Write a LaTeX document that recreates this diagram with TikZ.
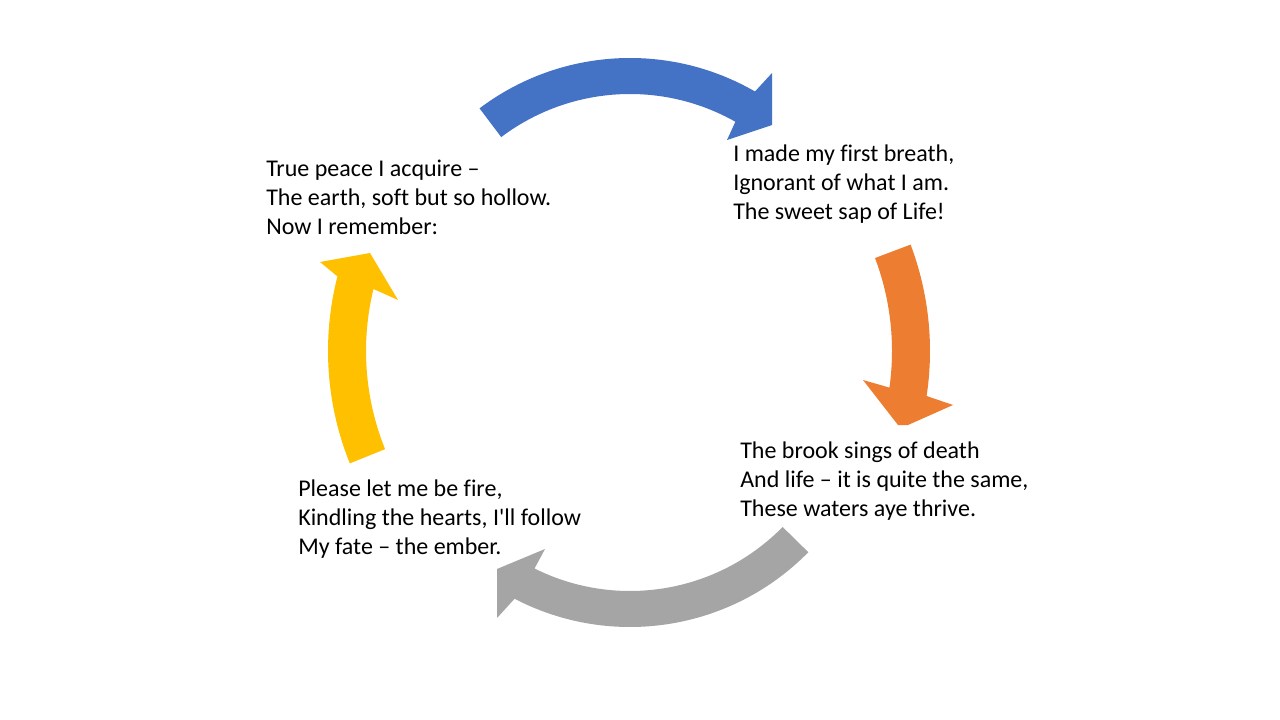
\documentclass[tikz,border=0pt]{standalone}
\usepackage{fontspec}
\setmainfont{Carlito}[Ligatures={NoCommon}]
\definecolor{cblue}{HTML}{4472C4}
\definecolor{corange}{HTML}{ED7D31}
\definecolor{cgray}{HTML}{A5A5A5}
\definecolor{cyellow}{HTML}{FFC000}
\begin{document}
\begin{tikzpicture}[x=0.75pt,y=-0.75pt,
  poem/.style={anchor=base west, inner sep=0pt, font=\fontsize{18}{21.75}\selectfont}]
\useasboundingbox[fill=white] (0,0) rectangle (1280,720);
\coordinate (cb) at (630,308);
\coordinate (cg) at (630,377);
\coordinate (co) at (629,351);
\coordinate (cy) at (628,351);
% blue arrow (top)
\fill[cblue] ([shift={(cb)}]-127:250) arc[start angle=-127, end angle=-60, radius=250]
  -- (772,73) -- (772,125) -- (727,140) -- ([shift={(cb)}]-60.5:214)
  arc[start angle=-60.5, end angle=-127, radius=214] -- cycle;
% orange arrow (right)
\fill[corange] ([shift={(co)}]-20.7:301) arc[start angle=-20.7, end angle=8.6, radius=301]
  -- (953,405) -- (908,425) -- (898,425) -- (863,380) -- ([shift={(co)}]8:263)
  arc[start angle=8, end angle=-20.7, radius=263] -- cycle;
% gray arrow (bottom)
\fill[cgray] ([shift={(cg)}]44.5:250) arc[start angle=44.5, end angle=117.5, radius=250]
  -- (497,618) -- (497,569) -- (545,549) -- ([shift={(cg)}]116.5:214)
  arc[start angle=116.5, end angle=44.5, radius=214] -- cycle;
% yellow arrow (left)
\fill[cyellow] ([shift={(cy)}]158:300) arc[start angle=158, end angle=194.4, radius=300]
  -- (320,262) -- (370,253) -- (398,300) -- ([shift={(cy)}]193.7:262)
  arc[start angle=193.7, end angle=158, radius=262] -- cycle;
% poems
\node[poem] (p1) at (266,177) {\begin{tabular}[t]{@{}l@{}}True peace I acquire –\\The earth, soft but so hollow.\\Now I remember:\end{tabular}};
\node[poem] (p2) at (733,162) {\begin{tabular}[t]{@{}l@{}}I made my first breath,\\Ignorant of what I am.\\The sweet sap of Life!\end{tabular}};
\node[poem] (p3) at (740,458) {\begin{tabular}[t]{@{}l@{}}The brook sings of death\\And life – it is quite the same,\\These waters aye thrive.\end{tabular}};
\node[poem] (p4) at (298,496) {\begin{tabular}[t]{@{}l@{}}Please let me be fire,\\Kindling the hearts, I\textquotesingle ll follow\\My fate – the ember.\end{tabular}};
\end{tikzpicture}
\end{document}
